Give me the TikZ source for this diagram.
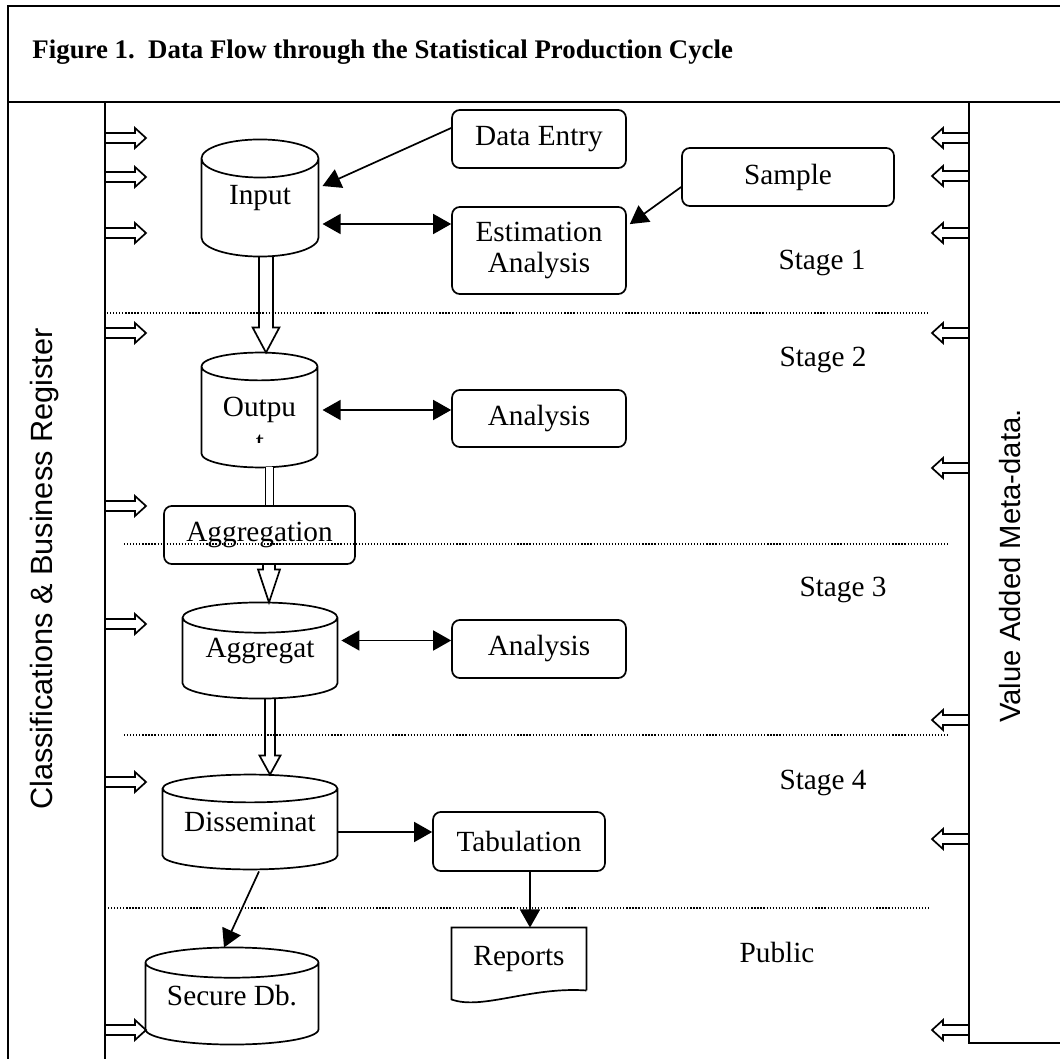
\documentclass[tikz,border=0pt]{standalone}
\usepackage{fontspec}
\setmainfont{Liberation Serif}
\setsansfont{Liberation Sans}
\usetikzlibrary{calc,arrows.meta}

\tikzset{
  frame/.style={line width=0.8pt},
  fatline/.style={line width=0.7pt},
  box/.style={draw, line width=0.7pt, rounded corners=3.2pt, align=center, inner sep=0pt,
    font=\fontsize{12}{12.7}\selectfont},
  drum/.style={inner sep=0pt, align=center, font=\fontsize{12}{12.7}\selectfont},
  stage/.style={font=\fontsize{12}{14}\selectfont},
  sep/.style={line width=0.45pt, dash pattern=on 0.5pt off 0.75pt},
  oneway/.style={line width=0.7pt, -{Triangle[length=7.4pt,width=8.2pt]}},
  twoway/.style={line width=0.7pt, {Triangle[length=7.4pt,width=8.2pt]}-{Triangle[length=7.4pt,width=8.2pt]}},
}

% cylinder outline round a named node: name, half height of the ellipse
\newcommand{\drum}[2]{%
  \draw[fatline] let \p1=(#1.north west), \p2=(#1.south east), \n1={(\x2-\x1)/2} in
    (\x1,\y1-#2) -- (\x1,\y2+#2) arc[start angle=180, end angle=360, x radius=\n1, y radius=#2]
    -- (\x2,\y1-#2) arc[start angle=0, end angle=360, x radius=\n1, y radius=#2];}

% hollow arrow pointing down: start, target, half shaft, half head, head length
\newcommand{\fatdown}[5]{%
  \draw[fatline] let \p1=(#1), \p2=(#2) in
    (\x1-#3,\y1) -- (\x1-#3,\y2+#5) -- (\x1-#4,\y2+#5) -- (\x1,\y2)
    -- (\x1+#4,\y2+#5) -- (\x1+#3,\y2+#5) -- (\x1+#3,\y1);}

\begin{document}
\begin{tikzpicture}[x=0.41pt,y=-0.41pt]
    \useasboundingbox (0,0) rectangle (1060,1059);
    % frame
    \draw[frame] (8,1059) -- (8,6) -- (1060,6);
    \draw[frame] (8,102) -- (1060,102);
    \draw[frame] (105,102) -- (105,1059);
    \draw[frame] (969,102) -- (969,1043) -- (1060,1043);
    \node[anchor=west, inner sep=0pt, font=\fontsize{11}{13}\selectfont\bfseries] (title) at (32,52)
      {Figure 1.\ \ Data Flow through the Statistical Production Cycle};
    \node[rotate=90, font=\fontsize{12.6}{14}\selectfont\sffamily] (register) at (45,569)
      {Classifications \& Business Register};
    \node[rotate=90, font=\fontsize{12}{14}\selectfont\sffamily] (metadata) at (1010,566)
      {Value Added Meta-data.};
    % stage borders
    \draw[sep] (107,313) -- (930,313);
    \draw[sep] (124,544) -- (950,544);
    \draw[sep] (124,735) -- (950,735);
    \draw[sep] (108,908) -- (930,908);
    %\draw[sep] (108,1000) -- (930,1000);
    \node[stage] (stagea) at (822,263) {Stage 1};
    \node[stage] (stageb) at (823,360) {Stage 2};
    \node[stage] (stagec) at (843,590) {Stage 3};
    \node[stage] (staged) at (823,783) {Stage 4};
    \node[stage] (public) at (777,952) {Public};
    % processes
    \node[box, minimum width=71.3pt, minimum height=23.8pt] (entry) at (539,139) {Data Entry};
    \node[box, minimum width=86.9pt, minimum height=23.8pt] (sample) at (788,177) {Sample};
    \node[box, minimum width=71.3pt, minimum height=35.7pt] (estimation) at (539,250.5) {Estimation\\Analysis};
    \node[box, minimum width=71.3pt, minimum height=23.4pt] (analysisb) at (539,418.5) {Analysis};
    \node[box, minimum width=78.3pt, minimum height=23.8pt] (aggregation) at (259.5,535) {Aggregation};
    \node[box, minimum width=71.3pt, minimum height=23.8pt] (analysisc) at (539,649) {Analysis};
    \node[box, minimum width=70.5pt, minimum height=24.2pt] (tabulation) at (519,841.5) {Tabulation};
    % data stores
    \node[drum, minimum width=47.6pt, minimum height=47.6pt] (input) at (260,198) {\raisebox{-1.2pt}{Input}};
    \node[drum, minimum width=47.2pt, minimum height=46.7pt] (output) at (259.5,410) {Outpu};
    \node[drum, minimum width=63.1pt, minimum height=39pt] (aggregat) at (260,650.5) {Aggregat};
    \node[drum, minimum width=71.3pt, minimum height=38.5pt] (disseminat) at (250,822) {Disseminat};
    \node[drum, minimum width=70.5pt, minimum height=39.4pt] (secure) at (232,996) {Secure Db.};
    \drum{input}{7.8pt}
    \drum{output}{5.7pt}
    \drum{aggregat}{6.2pt}
    \drum{disseminat}{5.7pt}
    \drum{secure}{6.2pt}
    \begin{scope}
      \clip (245,433) rectangle (275,442);
      \node[drum] (outputrest) at (260,443) {t};
    \end{scope}
    \node[drum, minimum width=54.9pt, minimum height=25.4pt] (reports) at (519,959) {Reports};
    \draw[fatline] (reports.south east) -- (reports.north east) -- (reports.north west)
      -- ($(reports.south west)+(0,9)$) .. controls ($(reports.south west)+(30,20)$)
      and ($(reports.south east)+(-56,-4)$) .. (reports.south east);
    % flows
    \coordinate (ia) at ($(input.east)+(4,26)$);
    \coordinate (oa) at ($(output.east)+(5,0)$);
    \coordinate (ga) at ($(aggregat.east)+(4,-10)$);
    \coordinate (da) at ($(disseminat.east)+(1,10)$);
    \coordinate (ta) at ($(tabulation.south)+(11,0)$);
    \draw[oneway] ($(entry.west)+(0,-11)$) -- ($(input.east)+(4,-12)$);
    \draw[twoway] (ia) -- (ia -| estimation.west);
    \draw[oneway] ($(sample.west)+(0,10)$) -- ($(estimation.north east)+(3,18)$);
    \draw[twoway] (oa) -- (oa -| analysisb.west);
    \draw[twoway] (ga) -- (ga -| analysisc.west);
    \draw[oneway] (da) -- (da -| tabulation.west);
    \draw[oneway] ($(disseminat.south)+(9,2)$) -- ($(secure.north)+(-8,0)$);
    \draw[oneway] (ta) -- (ta |- reports.north);
    \fatdown{$(input.south)+(6,0)$}{output.north}{2.9pt}{5.5pt}{10.3pt}
    \draw[fatline, double, double distance=2.6pt] ($(output.south)+(10,0)$) -- ($(aggregation.north)+(10,0)$);
    \fatdown{$(aggregation.south)+(9.5,0)$}{aggregat.north}{2.5pt}{4.5pt}{13.5pt}
    \fatdown{$(aggregat.south)+(10,0)$}{disseminat.north}{2.05pt}{4.3pt}{7.8pt}
    % classifications in, meta-data out
    \foreach \y in {138,177,233,333,506,624,782,1030}
      \draw[fatline] (105,\y-5) -- ++(30,0) -- ++(0,-5) -- ++(11,10) -- ++(-11,10) -- ++(0,-5) -- ++(-30,0);
    \foreach \y in {138,176,233,333,468,720,839,1030}
      \draw[fatline] (969,\y-5) -- ++(-26,0) -- ++(0,-5) -- ++(-11,10) -- ++(11,10) -- ++(0,-5) -- ++(26,0);
\end{tikzpicture}
\end{document}
